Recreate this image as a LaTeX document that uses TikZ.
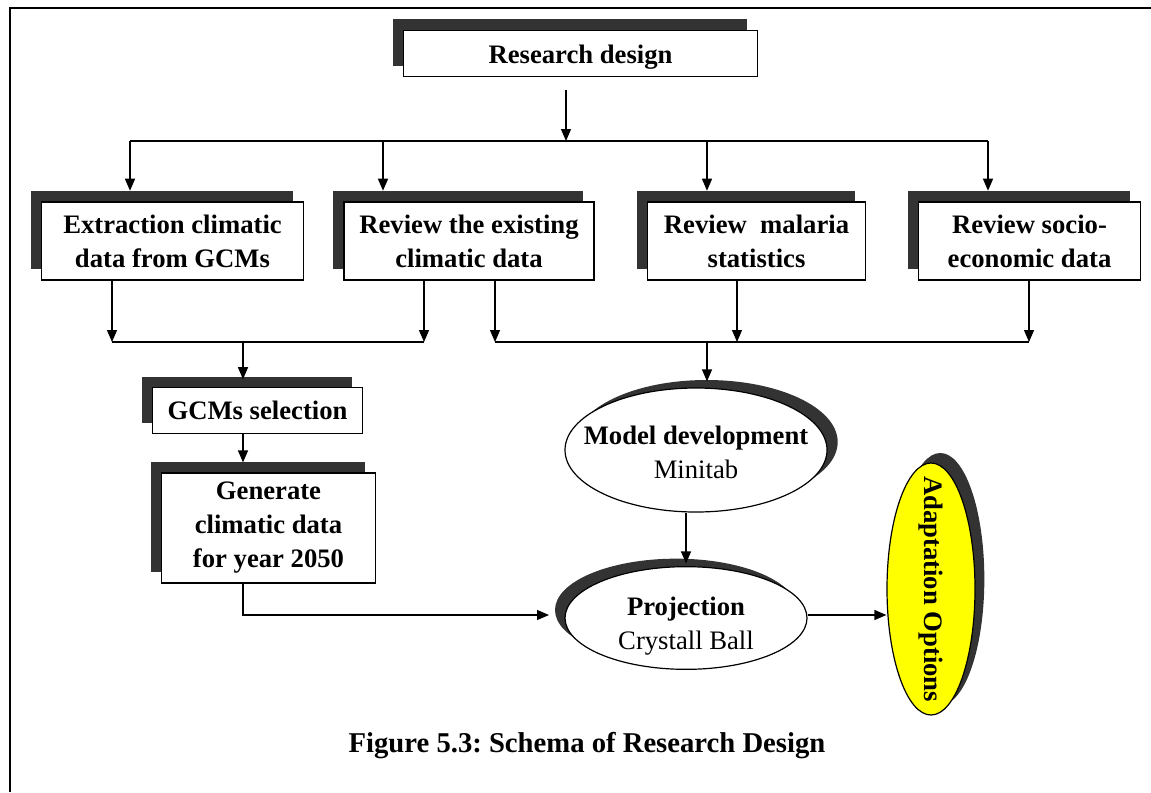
\documentclass[tikz,border=0pt]{standalone}
\usepackage{fontspec}
\setmainfont{Liberation Serif}
\usepackage{tikz}
\usetikzlibrary{arrows.meta, shapes.geometric, shadows}
\definecolor{shadowgray}{RGB}{51, 51, 51}
\definecolor{optyellow}{RGB}{255, 255, 0}
\newcommand{\boxfont}{\fontsize{20}{25.5}\selectfont\bfseries}
\newcommand{\plainfont}{\fontsize{20}{25.5}\selectfont}
\frenchspacing

\begin{document}
\begin{tikzpicture}[
  x=0.75pt, y=-0.75pt,
  shade/.style 2 args={drop shadow={shadow xshift=#1, shadow yshift=#2,
                       fill=shadowgray, opacity=1}},
  stepbox/.style={rectangle,draw,line width=0.9pt,fill=white,align=center,
                  inner sep=0pt,font=\boxfont,shade={-8pt}{8pt}},
  oval/.style={ellipse,draw,line width=0.9pt,fill=white,inner sep=0pt},
  ovaltext/.style={align=center,inner sep=0pt,font=\plainfont},
  >={Triangle[width=7.5pt,length=9pt]},
  every path/.style={line width=0.9pt}
]
  \useasboundingbox (0,0) rectangle (1151,792);
  % frame
  \draw[line width=1.8pt] (10,792) -- (10,8) -- (1151,8);

  % boxes
  \node[stepbox,minimum width=266pt,minimum height=35pt,text height=19pt,text depth=4pt] (rd) at (580.5,53.5) {Research design};
  \node[stepbox,minimum width=197pt,minimum height=58.5pt] (ex) at (172.5,241) {Extraction climatic\\data from GCMs};
  \node[stepbox,minimum width=187.5pt,minimum height=58.5pt] (rv) at (469,241) {Review the existing\\climatic data};
  \node[stepbox,minimum width=164pt,minimum height=58.5pt] (ms) at (756.5,241) {Review\ \ malaria\\statistics};
  \node[stepbox,minimum width=167pt,minimum height=58.5pt] (se) at (1029.5,241) {Review socio-\\economic data};
  \node[stepbox,minimum width=158pt,minimum height=34pt] (gs) at (257.5,410.5) {GCMs selection};
  \node[stepbox,minimum width=160pt,minimum height=82.5pt] (gn) at (268.5,528) {Generate\\climatic data\\for year 2050};

  % ellipses (shape first, text on top)
  \node[oval,shade={8pt}{6pt},minimum width=196.5pt,minimum height=93pt] (md) at (696,450) {};
  \node[ovaltext] (mdt) at ([yshift=-2pt]md) {{\boxfont Model development}\\Minitab};
  \node[oval,shade={-7.5pt}{6pt},minimum width=181.5pt,minimum height=77pt] (pj) at (686,618) {};
  \node[ovaltext] (pjt) at ([yshift=-6pt]pj) {{\boxfont Projection}\\Crystall Ball};
  \node[oval,shade={7pt}{7.5pt},fill=optyellow,minimum width=66pt,minimum height=189pt] (ad) at (931,589) {};
  \node[ovaltext,font=\boxfont,rotate=-90] (adt) at (ad) {Adaptation Options};

  % fan-out from research design
  \coordinate (split) at (566,141);
  \coordinate (busA) at (130,141);
  \coordinate (busB) at (988,141);
  \draw[->] ([yshift=-9.5pt]rd.south -| split) -- (split);
  \draw (busA) -- (busB);
  \foreach \x/\b in {130/ex, 383/rv, 707/ms, 988/se} {
    \coordinate (c) at (\x,141);
    \draw[->] (c) -- ([yshift=8pt]c |- \b.north);
  }

  % left join
  \coordinate (l1) at (112,342);
  \coordinate (l2) at (424,342);
  \coordinate (l0) at (243,342);
  \draw[->] (ex.south -| l1) -- (l1);
  \draw[->] (rv.south -| l2) -- (l2);
  \draw (l1) -- (l2);
  \draw[->] (l0) -- ([yshift=6pt]gs.north -| l0);
  \draw[->] (gs.south -| l0) -- ([yshift=7.5pt]gn.north -| l0);

  % right join
  \coordinate (r1) at (495,342);
  \coordinate (r2) at (737,342);
  \coordinate (r3) at (1029,342);
  \coordinate (r0) at (707,342);
  \draw[->] (rv.south -| r1) -- (r1);
  \draw[->] (ms.south -| r2) -- (r2);
  \draw[->] (se.south -| r3) -- (r3);
  \draw (r1) -- (r3);
  \draw[->] (r0) -- ([yshift=4.5pt]md.north -| r0);

  % towards projection and options
  \coordinate (pin) at (549,615);
  \draw[->] (gn.south -| l0) |- (pin);
  \draw[->] (md.south -| pj.north) -- ([yshift=2pt]pj.north);
  \draw[->] (pj.east |- pin) -- (pin -| ad.west);

  \node[font=\fontsize{21.5}{26}\selectfont\bfseries] (cap) at (587,746) {Figure 5.3: Schema of Research Design};
\end{tikzpicture}
\end{document}
